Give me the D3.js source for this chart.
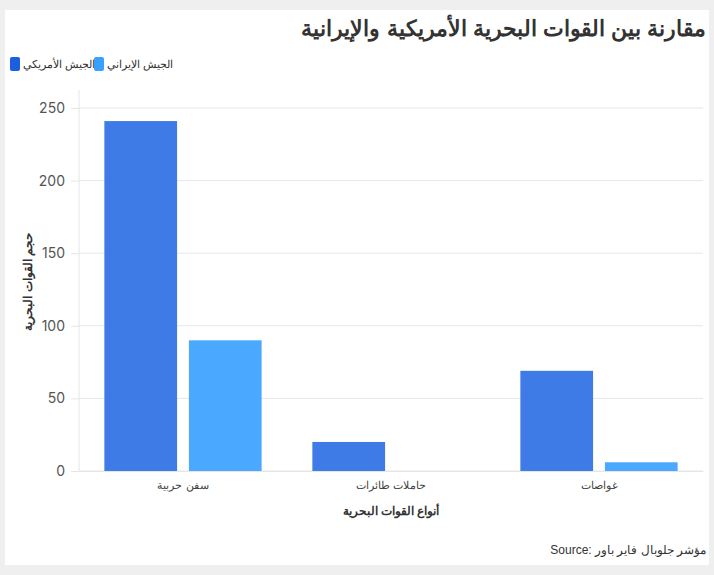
<!DOCTYPE html><html><head><meta charset="utf-8"><script src="https://cdn.jsdelivr.net/npm/d3@7"></script>
<style>body{margin:0;background:#efefef;font-family:"Liberation Sans",Arial,sans-serif}</style></head><body><svg id="c" width="714" height="575"></svg>
<script>
const categories=["سفن حربية","حاملات طائرات","غواصات"];
const seriesNames=["الجيش الأمريكي","الجيش الإيراني"];
const usValues=[241,20,69];
const iranValues=[90,0,6];
const yTicks=[0,50,100,150,200,250];
const colors=["#3f7be6","#4aa8ff"];
const legendColors=["#1a5fe0","#3aa0ff"];
const svg=d3.select("#c");
svg.append("rect").attr("x",5).attr("y",10).attr("width",704).attr("height",555).attr("fill","#fff");
svg.append("text").attr("x",706).attr("y",36).attr("text-anchor","end").attr("font-size",22).attr("font-weight","bold").attr("fill","#333").text("مقارنة بين القوات البحرية الأمريكية والإيرانية");
const x=d3.scaleBand().domain(categories).range([79,703]);
const xs=d3.scaleBand().domain(seriesNames).range([0,x.bandwidth()]).paddingInner(0.14).paddingOuter(0.3);
const y=d3.scaleLinear().domain([0,250]).range([471,108]);
const g=svg.append("g");
g.selectAll(".gl").data(yTicks).join("line").attr("x1",79).attr("x2",703).attr("y1",d=>y(d)).attr("y2",d=>y(d)).attr("stroke","#e6e6e6");
g.append("line").attr("x1",79).attr("x2",79).attr("y1",90).attr("y2",471).attr("stroke","#e6e6e6");
const ya=g.append("g").attr("transform","translate(79,0)").call(d3.axisLeft(y).tickValues(yTicks).tickSize(8).tickPadding(6));
ya.select(".domain").remove();ya.selectAll("line").attr("stroke","#e6e6e6");ya.selectAll("text").attr("font-size",14).attr("fill","#555").attr("font-family","Inter,sans-serif");
const xa=g.append("g").attr("transform","translate(0,471)").call(d3.axisBottom(x).tickSize(0).tickPadding(10));
xa.select(".domain").attr("stroke","#e6e6e6");xa.selectAll("text").attr("font-size",11).attr("fill","#444");
const data=[usValues,iranValues];
data.forEach((vals,si)=>{
 g.selectAll(".b"+si).data(vals).join("rect").attr("x",(d,i)=>x(categories[i])+xs(seriesNames[si])).attr("width",xs.bandwidth()).attr("y",d=>y(d)).attr("height",d=>471-y(d)).attr("fill",colors[si]);
});
svg.append("text").attr("x",391).attr("y",515).attr("text-anchor","middle").attr("font-size",12).attr("font-weight","bold").attr("fill","#333").text("أنواع القوات البحرية");
svg.append("text").attr("transform","translate(32,282) rotate(-90)").attr("text-anchor","middle").attr("font-size",12).attr("font-weight","bold").attr("fill","#333").text("حجم القوات البحرية");
svg.append("text").attr("x",706).attr("y",554).attr("text-anchor","end").attr("font-size",12).attr("fill","#333").text("Source: مؤشر جلوبال فاير باور");
const lg=[[10,0],[94,1]];
lg.forEach(([lx,i])=>{
 svg.append("rect").attr("x",lx).attr("y",57).attr("width",10).attr("height",14).attr("rx",2).attr("fill",legendColors[i]);
 svg.append("text").attr("x",lx+13).attr("y",68).attr("font-size",11).attr("fill","#333").attr("direction","rtl").attr("text-anchor","end").text(seriesNames[i]);
});
</script></body></html>
